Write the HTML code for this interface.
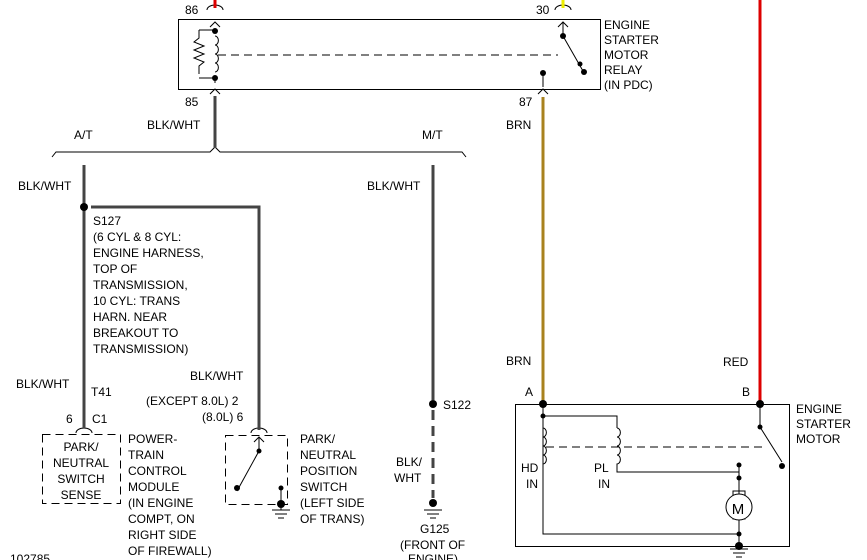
<!DOCTYPE html>
<html><head><style>body{margin:0;background:#fff}svg{display:block}text{font-family:"Liberation Sans",sans-serif;font-size:12px;fill:#000}</style></head><body>
<svg width="867" height="560" viewBox="0 0 867 560">
<g fill="none" stroke="#000" stroke-width="1">
<!-- relay box -->
<rect x="178.5" y="19.5" width="422" height="70"/>
<!-- coil -->
<path d="M215 30v3M210 27l5-5 5 5M215 80v3M210 94l5-5 5 5"/>
<path d="M199 30h16M199 78h16M199 30v8l-5 4 10 4-10 4 10 4-10 4 10 4-5 4v8"/>
<path d="M215 36a3 4 0 0 1 0 9a3 4 0 0 1 0 9a3 4 0 0 1 0 9a3 4 0 0 1 0 9"/>
<path d="M218 55h340" stroke-dasharray="8,5"/>
<!-- relay switch -->
<path d="M563 22v14M558 27l5-5 5 5M563 36l20 35M543 73v14M538 94l5-5 5 5"/>
<path d="M207 10a8 5 0 0 1 16 0M555 10a8 5 0 0 1 16 0"/>
<!-- split -->
<path d="M52 157l4-5h154l5-5 5 5h242l4 5"/>
<!-- PCM box dashed -->
<rect x="42.5" y="434.5" width="78" height="69" stroke-dasharray="8,5"/>
<path d="M76 433a8 5 0 0 1 16 0"/>
<!-- PNP switch box -->
<rect x="225.5" y="435.5" width="62" height="69" stroke-dasharray="8,5"/>
<path d="M251 433a8 5 0 0 1 16 0M259 437v13M254 442l5-5 5 5M259 451l-22 40M281 488v22M272 510h18M275 514h12M278 518h6"/>
<!-- G125 ground -->
<path d="M424 510h18M427 514h12M430 518h6"/>
<!-- starter box -->
<rect x="515.5" y="404.5" width="274" height="142"/>
<path d="M543 404v130h196M543 416h74v12M543 416v12"/>
<path d="M543 428a3 4 0 0 1 0 9a3 4 0 0 1 0 9a3 4 0 0 1 0 9a3 4 0 0 1 0 9v8"/>
<path d="M617 428a3 4 0 0 1 0 9a3 4 0 0 1 0 9a3 4 0 0 1 0 9a3 4 0 0 1 0 9v8h122"/>
<path d="M546 447h220" stroke-dasharray="8,5"/>
<path d="M760 404v23l22 35"/>
<path d="M739 465v35M739 519v15M733 491h12v9h-12zM733 519h12v-9h-12z"/>
<circle cx="739" cy="507" r="13" fill="#fff"/>
<path d="M739 534v15M730 549h18M733 553h12M736 557h6"/>
</g>
<!-- wires -->
<line x1="215" y1="0" x2="215" y2="8" stroke="#d00" stroke-width="3"/>
<line x1="563" y1="0" x2="563" y2="8" stroke="#ee0" stroke-width="3"/>
<line x1="760" y1="0" x2="760" y2="404" stroke="#d00" stroke-width="3"/>
<line x1="543" y1="97" x2="543" y2="404" stroke="#a8821e" stroke-width="3"/>
<g stroke="#444" stroke-width="3" fill="none">
<path d="M215 96v52M84 165v263M91 207h168v223M433 165v235"/>
<path d="M433 410v88" stroke-dasharray="10,6"/>
</g>
<g fill="#000">
<circle cx="84" cy="207" r="4"/><circle cx="433" cy="404" r="4"/><circle cx="433" cy="503" r="4"/>
<circle cx="215" cy="31" r="3"/><circle cx="215" cy="78" r="3"/>
<circle cx="563" cy="36" r="3"/><circle cx="580" cy="64" r="2.5"/><circle cx="584" cy="72" r="3"/><circle cx="543" cy="73" r="3"/>
<circle cx="259" cy="451" r="2.5"/><circle cx="237" cy="488" r="3"/><circle cx="281" cy="488" r="2.5"/><circle cx="281" cy="504" r="4"/>
<circle cx="543" cy="404" r="4"/><circle cx="760" cy="404" r="4"/><circle cx="543" cy="416" r="2.5"/><circle cx="760" cy="427" r="2.5"/><circle cx="782" cy="466" r="3"/>
<circle cx="739" cy="465" r="2.5"/><circle cx="739" cy="478" r="2.5"/><circle cx="739" cy="534" r="2.5"/><circle cx="739" cy="546" r="4"/>
</g>
<text x="738" y="514" font-size="15" text-anchor="middle" style="font-size:15px">M</text>
<text x="185" y="14">86</text><text x="536" y="14">30</text><text x="185" y="106">85</text><text x="519" y="106">87</text>
<text x="604" y="29">ENGINE</text><text x="604" y="44">STARTER</text><text x="604" y="59">MOTOR</text><text x="604" y="74">RELAY</text><text x="604" y="89">(IN PDC)</text>
<text x="147" y="129">BLK/WHT</text><text x="74" y="139">A/T</text><text x="422" y="139">M/T</text><text x="506" y="129">BRN</text>
<text x="18" y="190">BLK/WHT</text><text x="367" y="190">BLK/WHT</text>
<text x="93" y="225">S127</text><text x="93" y="241">(6 CYL &amp; 8 CYL:</text><text x="93" y="257">ENGINE HARNESS,</text><text x="93" y="273">TOP OF</text><text x="93" y="289">TRANSMISSION,</text><text x="93" y="305">10 CYL: TRANS</text><text x="93" y="321">HARN. NEAR</text><text x="93" y="337">BREAKOUT TO</text><text x="93" y="353">TRANSMISSION)</text>
<text x="16" y="388">BLK/WHT</text><text x="91" y="396">T41</text><text x="66" y="423">6</text><text x="92" y="423">C1</text>
<text x="190" y="380">BLK/WHT</text><text x="146" y="405">(EXCEPT 8.0L)  2</text><text x="202" y="421">(8.0L)  6</text>
<text x="443" y="409">S122</text><text x="506" y="365">BRN</text><text x="723" y="366">RED</text>
<text x="525" y="396">A</text><text x="742" y="396">B</text>
<text x="81" y="451" text-anchor="middle">PARK/</text><text x="81" y="467" text-anchor="middle">NEUTRAL</text><text x="81" y="483" text-anchor="middle">SWITCH</text><text x="81" y="499" text-anchor="middle">SENSE</text>
<text x="128" y="443">POWER-</text><text x="128" y="459">TRAIN</text><text x="128" y="475">CONTROL</text><text x="128" y="491">MODULE</text><text x="128" y="507">(IN ENGINE</text><text x="128" y="523">COMPT, ON</text><text x="128" y="539">RIGHT SIDE</text><text x="128" y="555">OF FIREWALL)</text>
<text x="300" y="443">PARK/</text><text x="300" y="459">NEUTRAL</text><text x="300" y="475">POSITION</text><text x="300" y="491">SWITCH</text><text x="300" y="507">(LEFT SIDE</text><text x="300" y="523">OF TRANS)</text>
<text x="396" y="466">BLK/</text><text x="394" y="482">WHT</text>
<text x="420" y="533">G125</text><text x="400" y="549">(FRONT OF</text><text x="408" y="563">ENGINE)</text>
<text x="796" y="413">ENGINE</text><text x="796" y="428">STARTER</text><text x="796" y="443">MOTOR</text>
<text x="521" y="472">HD</text><text x="526" y="488">IN</text><text x="594" y="472">PL</text><text x="598" y="488">IN</text>
<text x="10" y="563" font-size="10">102785</text>
</svg>
</body></html>
